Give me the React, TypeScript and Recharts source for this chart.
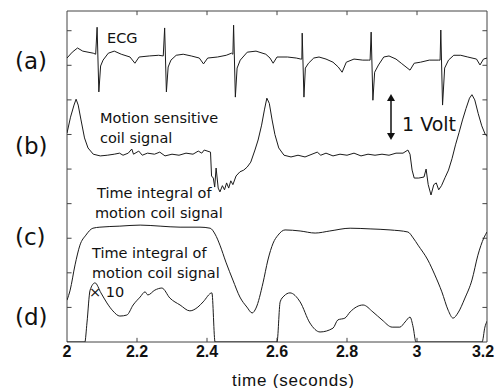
import React from "react";
import { LineChart, Line, XAxis, YAxis, ReferenceArea, ReferenceLine } from "recharts";

// time axis (seconds) and the unlabeled vertical ticks
const X_TICKS = [2, 2.2, 2.4, 2.6, 2.8, 3, 3.2];
const Y_TICKS = [1, 2, 3, 4, 5, 6, 7, 8, 9];
const Y_TOP = 9.57;

// (a) ECG, [time, level]
const ECG: [number, number][] = [
  [2.0, 8.21], [2.015, 8.38], [2.03, 8.5], [2.045, 8.41], [2.06, 8.38], [2.075, 8.35],
  [2.082, 8.32], [2.086, 9.1], [2.091, 7.23], [2.096, 7.98], [2.103, 8.15], [2.118, 8.35],
  [2.135, 8.41], [2.155, 8.32], [2.18, 8.24], [2.194, 8.06], [2.206, 8.24], [2.235, 8.27], [2.262, 8.29],
  [2.275, 8.27], [2.279, 9.08], [2.284, 7.23], [2.289, 7.95], [2.297, 8.15], [2.312, 8.29],
  [2.332, 8.32], [2.355, 8.27], [2.378, 8.21], [2.39, 8.04], [2.402, 8.21], [2.43, 8.24], [2.455, 8.29], [2.47, 8.35],
  [2.474, 8.32], [2.476, 9.16], [2.481, 7.08], [2.486, 7.92], [2.495, 8.15], [2.515, 8.38],
  [2.54, 8.41], [2.568, 8.32], [2.58, 8.21], [2.589, 8.06], [2.6, 8.24], [2.63, 8.24], [2.655, 8.21], [2.668, 8.18],
  [2.671, 8.18], [2.672, 8.93], [2.677, 7.08], [2.681, 7.92], [2.69, 8.06], [2.705, 8.21],
  [2.72, 8.24], [2.74, 8.18], [2.76, 8.09], [2.775, 7.95], [2.786, 7.8], [2.798, 8.09], [2.82, 8.18], [2.845, 8.15], [2.862, 8.15],
  [2.866, 8.15], [2.869, 8.96], [2.874, 6.99], [2.879, 7.8], [2.89, 8.01], [2.905, 8.24],
  [2.92, 8.27], [2.94, 8.18], [2.955, 8.06], [2.98, 7.86], [2.992, 8.06], [3.01, 8.09], [3.035, 8.15], [3.062, 8.15],
  [3.066, 8.15], [3.068, 9.02], [3.073, 6.85], [3.079, 7.92], [3.09, 8.15], [3.105, 8.29],
  [3.125, 8.29], [3.145, 8.24], [3.17, 8.18], [3.18, 8.01], [3.19, 8.18], [3.2, 8.21],
];

// (b) motion sensitive coil signal
const COIL: [number, number][] = [
  [2.0, 6.04], [2.01, 6.5], [2.02, 6.85], [2.026, 7.02], [2.032, 6.85], [2.04, 6.42],
  [2.05, 5.9], [2.06, 5.61], [2.075, 5.43], [2.095, 5.38], [2.115, 5.4], [2.135, 5.43],
  [2.15, 5.46], [2.16, 5.4], [2.175, 5.46], [2.185, 5.58], [2.19, 5.43], [2.205, 5.52],
  [2.215, 5.4], [2.23, 5.46], [2.25, 5.43], [2.265, 5.49], [2.28, 5.38], [2.3, 5.43],
  [2.32, 5.4], [2.34, 5.46], [2.36, 5.43], [2.375, 5.52], [2.385, 5.46], [2.392, 5.55],
  [2.41, 5.49], [2.413, 4.8], [2.418, 4.74], [2.422, 4.48], [2.426, 5.03], [2.432, 4.45],
  [2.437, 4.34], [2.444, 4.52], [2.45, 4.4], [2.456, 4.6], [2.462, 4.45], [2.468, 4.66],
  [2.474, 4.55], [2.483, 4.8], [2.494, 4.92], [2.505, 4.97], [2.515, 5.06], [2.525, 5.2],
  [2.537, 5.55], [2.546, 5.84], [2.556, 6.27], [2.564, 6.71], [2.571, 7.05], [2.578, 6.9],
  [2.586, 6.42], [2.594, 6.0], [2.605, 5.61], [2.62, 5.4], [2.64, 5.35], [2.66, 5.4],
  [2.68, 5.35], [2.7, 5.43], [2.715, 5.49], [2.725, 5.4], [2.74, 5.46], [2.76, 5.38],
  [2.78, 5.43], [2.8, 5.4], [2.82, 5.46], [2.84, 5.38], [2.86, 5.43], [2.88, 5.4],
  [2.9, 5.43], [2.92, 5.4], [2.94, 5.46], [2.96, 5.46], [2.974, 5.55], [2.98, 5.43],
  [2.986, 4.97], [2.992, 4.74], [3.005, 4.74], [3.02, 4.77], [3.026, 5.0], [3.032, 4.55],
  [3.04, 4.25], [3.048, 4.55], [3.055, 4.6], [3.062, 4.4], [3.07, 4.52], [3.08, 4.75],
  [3.09, 4.97], [3.1, 5.3], [3.11, 5.7], [3.12, 6.05], [3.13, 6.42], [3.14, 6.75],
  [3.15, 7.05], [3.157, 7.15], [3.165, 7.0], [3.175, 6.6], [3.185, 6.25], [3.195, 6.0], [3.2, 5.95],
];

// (c) time integral of the coil signal
const INTEGRAL: [number, number][] = [
  [2.0, 1.21], [2.009, 1.5], [2.023, 2.23], [2.037, 2.8], [2.054, 3.09], [2.074, 3.29],
  [2.094, 3.32], [2.151, 3.35], [2.209, 3.38], [2.266, 3.35], [2.323, 3.32], [2.38, 3.32],
  [2.409, 3.29], [2.423, 3.12], [2.437, 2.8], [2.454, 2.31], [2.474, 1.79], [2.494, 1.3],
  [2.514, 1.01], [2.529, 0.84], [2.54, 0.98], [2.56, 1.71], [2.574, 2.37], [2.589, 2.86],
  [2.603, 3.09], [2.623, 3.24], [2.666, 3.21], [2.709, 3.15], [2.751, 3.21], [2.809, 3.29],
  [2.866, 3.27], [2.923, 3.24], [2.974, 3.18], [2.989, 3.01], [3.003, 2.8], [3.031, 2.37],
  [3.051, 1.94], [3.071, 1.45], [3.089, 0.92], [3.103, 0.69], [3.117, 0.84], [3.137, 1.27],
  [3.157, 1.79], [3.174, 2.51], [3.191, 3.01], [3.2, 3.18],
];

// (d) same integral x 10, clipped at the bottom of the frame
const INTEGRAL_X10: [number, number][] = [
  [2.0, 0], [2.051, 0], [2.057, 0.55], [2.066, 1.5], [2.08, 1.71], [2.097, 1.42],
  [2.114, 1.13], [2.131, 0.9], [2.151, 0.75], [2.171, 0.78], [2.189, 1.07], [2.209, 1.3],
  [2.223, 1.45], [2.231, 1.36], [2.251, 1.5], [2.271, 1.56], [2.294, 1.27], [2.323, 1.07],
  [2.351, 0.9], [2.374, 1.01], [2.389, 1.16], [2.414, 1.42], [2.423, 0],
  [2.6, 0], [2.609, 1.16], [2.62, 1.33], [2.637, 1.42], [2.666, 1.16], [2.694, 0.55],
  [2.723, 0.29], [2.76, 0.4], [2.774, 0.64], [2.794, 0.69], [2.809, 0.87], [2.846, 1.07],
  [2.874, 0.87], [2.9, 0.64], [2.929, 0.43], [2.951, 0.43], [2.966, 0.58], [2.98, 0.72],
  [2.989, 0.43], [2.997, 0],
  [3.186, 0], [3.194, 0.43], [3.2, 0.6],
];

const rows = (pts: [number, number][]) => pts.map(([t, v]) => ({ t, v }));

const INK = "#1b1b1b";
const FRAME = "#444";

function Txt({ x, y, size, family = "DejaVu Sans", weight = 400, spacing = 0, children }: any) {
  return (
    <div
      style={{
        position: "absolute", left: x, top: y, transform: "translateY(-50%)",
        fontFamily: family, fontSize: size, fontWeight: weight, letterSpacing: spacing,
        lineHeight: 1, whiteSpace: "nowrap", color: "#111",
      }}
    >
      {children}
    </div>
  );
}

// bottom tick label; the last one is nudged so it stays inside the page
function TimeTick({ x, y, payload }: any) {
  const last = payload.value === X_TICKS[X_TICKS.length - 1];
  return (
    <text
      x={last ? x - 4 : x} y={y} dy={12} textAnchor="middle"
      fontFamily="Liberation Sans" fontSize={16} fontWeight={700} fill="#111"
    >
      {payload.value}
    </text>
  );
}

export default function App() {
  const traceProps = {
    dataKey: "v", stroke: INK, strokeWidth: 1,
    dot: false, activeDot: false, isAnimationActive: false,
  } as const;
  const tickLen = { x: 0.013, y: 0.12 };

  return (
    <div style={{ position: "relative", width: 495, height: 388, background: "#fff" }}>
      <style>{"body{margin:0}"}</style>
      <LineChart width={495} height={388} margin={{ top: 11, right: 8, left: 67, bottom: 16 }}>
        <XAxis
          dataKey="t" type="number" domain={[2, 3.2]} ticks={X_TICKS} interval={0}
          allowDataOverflow height={30} axisLine={false} tickLine={false} tickSize={0} tickMargin={3}
          tick={<TimeTick />}
        />
        <YAxis type="number" domain={[0, Y_TOP]} allowDataOverflow hide />

        <ReferenceArea x1={2} x2={3.2} y1={0} y2={Y_TOP} fill="none" stroke={FRAME} strokeWidth={1} ifOverflow="visible" />
        {Y_TICKS.map((k) => (
          <ReferenceLine key={`l${k}`} segment={[{ x: 2, y: k }, { x: 2 + tickLen.x, y: k }]} stroke={FRAME} ifOverflow="visible" />
        ))}
        {Y_TICKS.map((k) => (
          <ReferenceLine key={`r${k}`} segment={[{ x: 3.2 - tickLen.x, y: k }, { x: 3.2, y: k }]} stroke={FRAME} ifOverflow="visible" />
        ))}
        {X_TICKS.slice(1, -1).map((t) => (
          <ReferenceLine key={`b${t}`} segment={[{ x: t, y: 0 }, { x: t, y: tickLen.y }]} stroke={FRAME} ifOverflow="visible" />
        ))}
        {X_TICKS.slice(1, -1).map((t) => (
          <ReferenceLine key={`t${t}`} segment={[{ x: t, y: Y_TOP }, { x: t, y: Y_TOP - tickLen.y }]} stroke={FRAME} ifOverflow="visible" />
        ))}

        <Line {...traceProps} data={rows(ECG)} type="linear" />
        <Line {...traceProps} data={rows(COIL)} type="linear" />
        <Line {...traceProps} data={rows(INTEGRAL)} type="monotone" />
        <Line {...traceProps} data={rows(INTEGRAL_X10)} type="monotone" />
      </LineChart>

      <Txt x={15} y={61} size={23}>(a)</Txt>
      <Txt x={15} y={146} size={23}>(b)</Txt>
      <Txt x={15} y={237} size={23}>(c)</Txt>
      <Txt x={15} y={317} size={23}>(d)</Txt>

      <Txt x={107} y={38} size={14.5}>ECG</Txt>
      <Txt x={100} y={118} size={14.5}>Motion sensitive</Txt>
      <Txt x={100} y={138} size={14.5}>coil signal</Txt>
      <Txt x={97} y={193} size={14.5}>Time integral of</Txt>
      <Txt x={95} y={213} size={14.5}>motion coil signal</Txt>
      <Txt x={92} y={253} size={14.5}>Time integral of</Txt>
      <Txt x={92} y={273} size={14.5}>motion coil signal</Txt>
      <Txt x={89} y={292} size={14.5}>× 10</Txt>

      <svg style={{ position: "absolute", left: 384, top: 92, overflow: "visible" }} width={14} height={50}>
        <line x1={7} y1={4} x2={7} y2={46} stroke="#111" strokeWidth={1.5} />
        <path d="M3,9 L7,2 L11,9 Z" fill="#111" />
        <path d="M3,41 L7,48 L11,41 Z" fill="#111" />
      </svg>
      <Txt x={402} y={124} size={19}>1 Volt</Txt>

      <Txt x={232} y={380} size={17} family="Liberation Sans" spacing={0.8}>time (seconds)</Txt>
    </div>
  );
}
